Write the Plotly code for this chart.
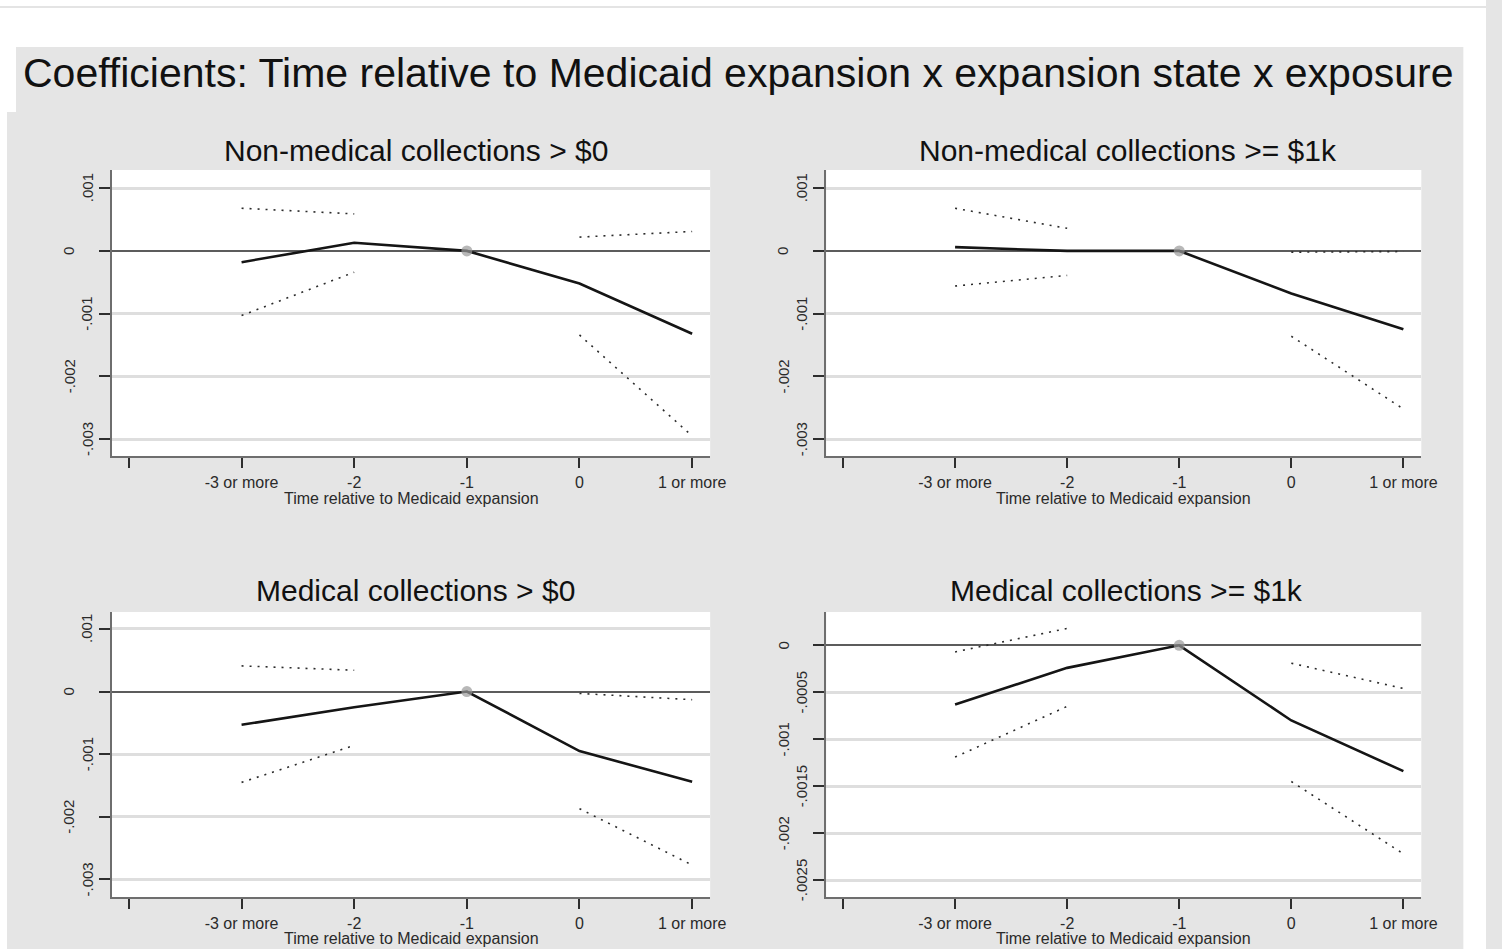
import plotly.graph_objects as go

W, H = 1502, 949
# horizontal correction for the capture's scrollbar gutter (page is
# photographed slightly wider than the figure, then fitted to 1502 px)
K = 1.011

# ---- data -------------------------------------------------------------
periods = [-3, -2, -1, 0, 1]
ref_period = -1
x_tick_vals = [-4, -3, -2, -1, 0, 1]
x_tick_text = ["", "-3 or more", "-2", "-1", "0", "1 or more"]

main_title = "Coefficients: Time relative to Medicaid expansion x expansion state x exposure"
x_title = "Time relative to Medicaid expansion"
panel_titles = [
    "Non-medical collections > $0",
    "Non-medical collections >= $1k",
    "Medical collections > $0",
    "Medical collections >= $1k",
]

# point estimates and 95% bounds (reference period has no interval)
nonmed_any_coef = [-0.00018, 0.00013, 0.0, -0.00052, -0.00132]
nonmed_any_hi = [0.00068, 0.00059, None, 0.00022, 0.00031]
nonmed_any_lo = [-0.00103, -0.00034, None, -0.00134, -0.00295]

nonmed_1k_coef = [0.00006, 0.0, 0.0, -0.00068, -0.00125]
nonmed_1k_hi = [0.00068, 0.00036, None, -0.00002, -0.00001]
nonmed_1k_lo = [-0.00056, -0.00039, None, -0.00136, -0.00252]

med_any_coef = [-0.00053, -0.00025, 0.0, -0.00095, -0.00144]
med_any_hi = [0.00041, 0.00034, None, -0.00003, -0.00013]
med_any_lo = [-0.00145, -0.00086, None, -0.00187, -0.00277]

med_1k_coef = [-0.00063, -0.00024, 0.0, -0.00080, -0.00134]
med_1k_hi = [-0.00007, 0.00018, None, -0.00019, -0.00046]
med_1k_lo = [-0.00119, -0.00065, None, -0.00145, -0.00222]

y_ticks_a = [0.001, 0.0, -0.001, -0.002, -0.003]
y_labels_a = [".001", "0", "-.001", "-.002", "-.003"]
y_ticks_b = [0.0, -0.0005, -0.001, -0.0015, -0.002, -0.0025]
y_labels_b = ["0", "-.0005", "-.001", "-.0015", "-.002", "-.0025"]

# ---- styling ------------------------------------------------------------
FONT = "Liberation Sans, Arial, Helvetica, sans-serif"
BG_GRAY = "#e5e5e5"
GRID = "#dedede"
AXIS = "#6e6e6e"


def px(x):
    return min(x * K / W, 1.0)


def py(y):
    return 1 - y / H


# pixel boxes: (left, right, top, bottom)
panels = [
    dict(coef=nonmed_any_coef, hi=nonmed_any_hi, lo=nonmed_any_lo,
         yt=y_ticks_a, yl=y_labels_a, yr=[-0.00327, 0.00129],
         box=(112, 710, 170, 456), tcx=416, ty=150),
    dict(coef=nonmed_1k_coef, hi=nonmed_1k_hi, lo=nonmed_1k_lo,
         yt=y_ticks_a, yl=y_labels_a, yr=[-0.00327, 0.00129],
         box=(826, 1421, 170, 456), tcx=1128, ty=150),
    dict(coef=med_any_coef, hi=med_any_hi, lo=med_any_lo,
         yt=y_ticks_a, yl=y_labels_a, yr=[-0.00328, 0.00127],
         box=(112, 710, 612, 897), tcx=415, ty=590),
    dict(coef=med_1k_coef, hi=med_1k_hi, lo=med_1k_lo,
         yt=y_ticks_b, yl=y_labels_b, yr=[-0.00268, 0.000355],
         box=(826, 1421, 612, 897), tcx=1126, ty=590),
]

fig = go.Figure()
annotations = []
layout_axes = {}

for i, p in enumerate(panels, start=1):
    xa = "x" if i == 1 else f"x{i}"
    ya = "y" if i == 1 else f"y{i}"
    xkey = "xaxis" if i == 1 else f"xaxis{i}"
    ykey = "yaxis" if i == 1 else f"yaxis{i}"
    l, r, t, b = p["box"]

    # confidence bounds (dotted, broken at the reference period)
    for bound in (p["hi"], p["lo"]):
        fig.add_trace(go.Scatter(
            x=periods, y=bound, xaxis=xa, yaxis=ya, mode="lines",
            connectgaps=False, hoverinfo="skip", showlegend=False,
            line=dict(color="#2b2b2b", width=1.6, dash="2px,6px"),
        ))

    # point estimates, with a marker on the omitted reference period
    sizes = [11 if t_ == ref_period else 0 for t_ in periods]
    fig.add_trace(go.Scatter(
        x=periods, y=p["coef"], xaxis=xa, yaxis=ya, mode="lines+markers",
        showlegend=False,
        line=dict(color="#151515", width=2.6),
        marker=dict(size=sizes, color="#9a9a9a", line=dict(width=0)),
    ))

    layout_axes[xkey] = dict(
        domain=[px(l), px(r)], range=[-4.15, 1.16], anchor=ya,
        tickvals=x_tick_vals, ticktext=x_tick_text,
        ticks="outside", ticklen=10, tickwidth=2, tickcolor="#2e2e2e",
        ticklabelstandoff=1,
        tickfont=dict(family=FONT, size=16, color="#2a2a2a"),
        showgrid=False, zeroline=False,
        showline=True, linecolor=AXIS, linewidth=2,
        fixedrange=True,
    )
    layout_axes[ykey] = dict(
        domain=[py(b), py(t)], range=p["yr"], anchor=xa,
        tickvals=p["yt"], showticklabels=False,
        ticks="outside", ticklen=11, tickwidth=2, tickcolor="#2e2e2e",
        showgrid=True, gridcolor=GRID, gridwidth=2.5,
        zeroline=True, zerolinecolor="#5c5c5c", zerolinewidth=2,
        showline=True, linecolor=AXIS, linewidth=2,
        fixedrange=True,
    )

    # panel title
    annotations.append(dict(
        text=panel_titles[i - 1], x=px(p["tcx"]), y=py(p["ty"]),
        xref="paper", yref="paper", xanchor="center", yanchor="middle",
        showarrow=False, font=dict(family=FONT, size=30, color="#111111"),
    ))
    # x-axis title, kept inside the page at the bottom row
    title_bottom = min(b + 53, H)
    annotations.append(dict(
        text=x_title, x=px((l + r) / 2), y=py(title_bottom),
        xref="paper", yref="paper", xanchor="center", yanchor="bottom",
        showarrow=False, font=dict(family=FONT, size=16, color="#2a2a2a"),
    ))
    # vertical y tick labels, alternating distance from the axis
    n = len(p["yt"])
    for k, (val, lab) in enumerate(zip(p["yt"], p["yl"])):
        from_bottom = n - 1 - k
        offset = 25 if from_bottom % 2 == 0 else 43
        annotations.append(dict(
            text=lab, x=px(l - offset), y=val,
            xref="paper", yref=ya, xanchor="center", yanchor="middle",
            textangle=-90, showarrow=False,
            font=dict(family=FONT, size=15, color="#2a2a2a"),
        ))

# overall title
annotations.append(dict(
    text=main_title, x=px(21), y=py(73), xref="paper", yref="paper",
    xanchor="left", yanchor="middle", showarrow=False,
    font=dict(family=FONT, size=41, color="#111111"),
))

# white page surround and thin frame line
shapes = [
    dict(type="rect", xref="paper", yref="paper", x0=0, x1=1, y0=py(47), y1=1,
         fillcolor="white", line=dict(width=0), layer="below"),
    dict(type="rect", xref="paper", yref="paper", x0=0, x1=px(16), y0=py(112), y1=py(47),
         fillcolor="white", line=dict(width=0), layer="below"),
    dict(type="rect", xref="paper", yref="paper", x0=0, x1=px(7), y0=0, y1=py(112),
         fillcolor="white", line=dict(width=0), layer="below"),
    dict(type="rect", xref="paper", yref="paper", x0=px(1463), x1=1, y0=0, y1=1,
         fillcolor="white", line=dict(width=0), layer="below"),
    dict(type="line", xref="paper", yref="paper", x0=0, x1=1, y0=py(7), y1=py(7),
         line=dict(color="#e4e4e4", width=2), layer="below"),
]

fig.update_layout(
    width=W, height=H,
    margin=dict(l=0, r=0, t=0, b=0),
    paper_bgcolor=BG_GRAY, plot_bgcolor="white",
    font=dict(family=FONT),
    annotations=annotations, shapes=shapes,
    showlegend=False,
    **layout_axes,
)

fig.write_html(
    "out.html",
    config={"displayModeBar": False, "responsive": False},
)
